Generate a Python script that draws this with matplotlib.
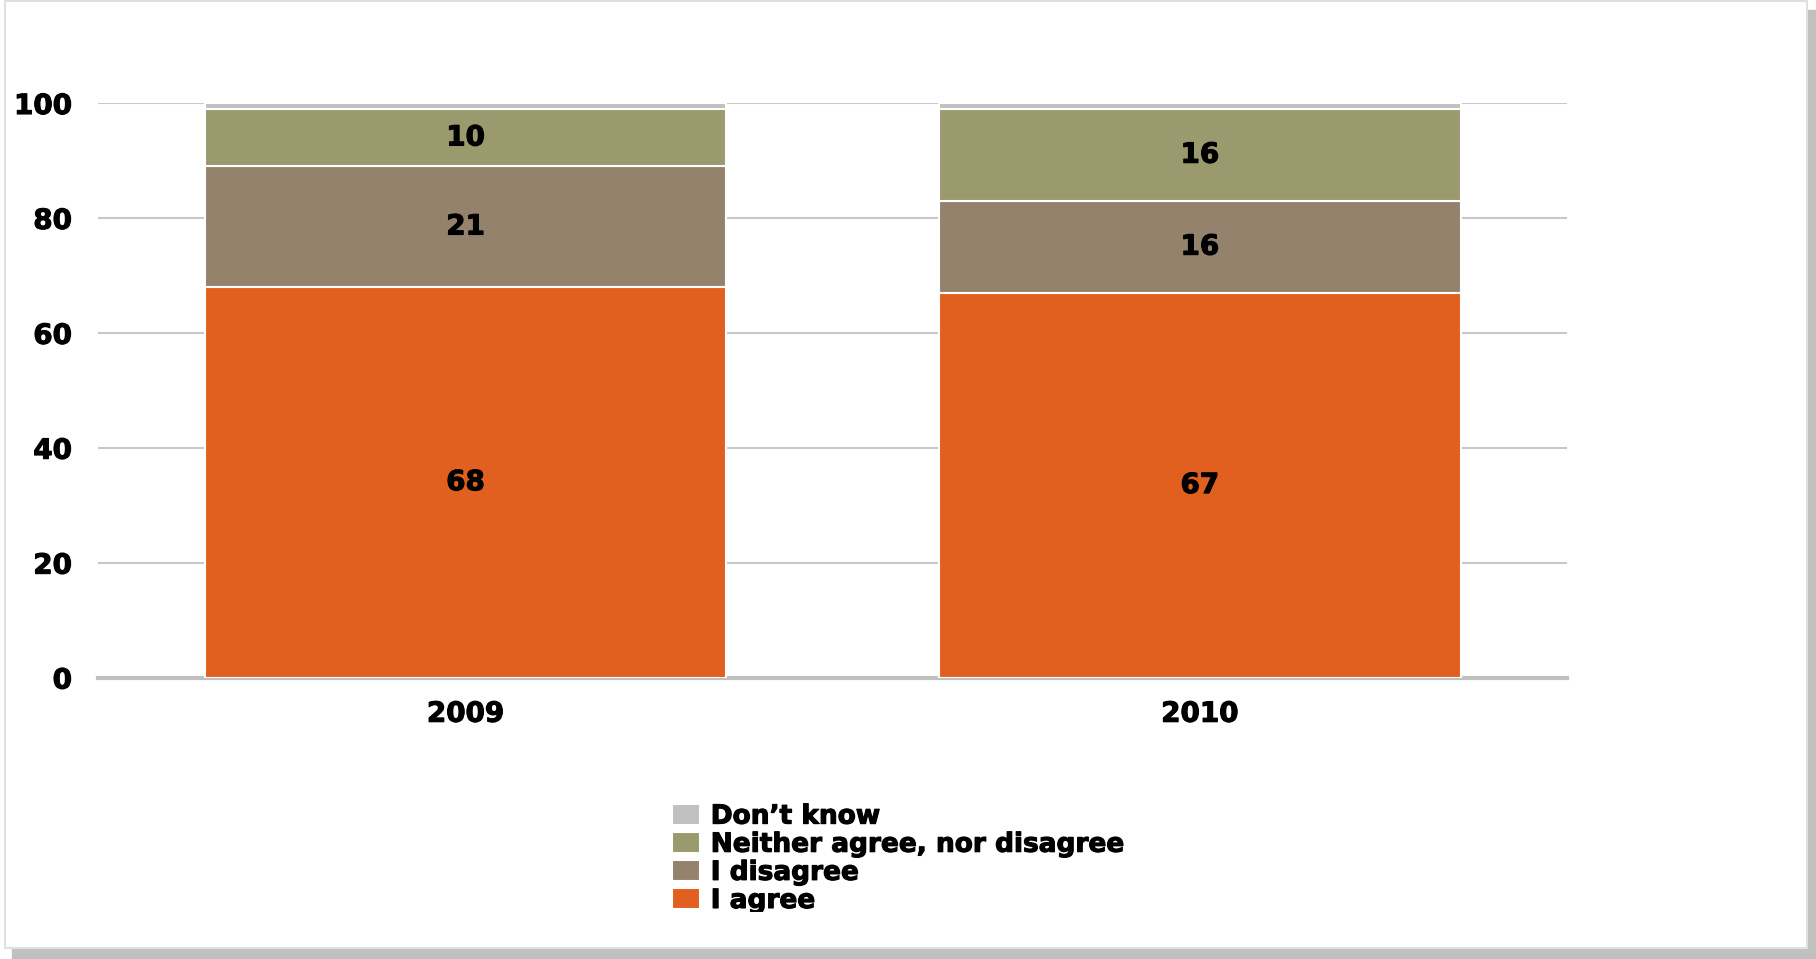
import matplotlib.pyplot as plt
import matplotlib.patheffects as pe
import numpy as np
from matplotlib.patches import Rectangle
from matplotlib.transforms import Bbox, TransformedBbox

# Data
years = ["2009", "2010"]
agree = [68, 67]
disagree = [21, 16]
neither = [10, 16]
dont_know = [1, 1]

series = [
    ("I agree", agree, "#e2601f"),
    ("I disagree", disagree, "#94826c"),
    ("Neither agree, nor disagree", neither, "#9a9a6e"),
    ("Don\u2019t know", dont_know, "#c0c0c0"),
]

plt.rcParams["font.family"] = "DejaVu Sans"
plt.rcParams["font.weight"] = "bold"

# slight stroke to get closer to the heavier Verdana bold look
heavy = [pe.withStroke(linewidth=0.8, foreground="black")]

fig = plt.figure(figsize=(18.16, 9.59), dpi=100)
ax = fig.add_axes([0.0542, 0.2935, 0.8087, 0.5991])

x = np.arange(len(years))
width = 0.71
bottom = np.zeros(len(years))
handles = []
for name, vals, color in series:
    bars = ax.bar(x, vals, width, bottom=bottom, color=color,
                  edgecolor="white", linewidth=1.5, label=name, zorder=2)
    handles.append(bars)
    if name != "Don\u2019t know":
        for xi, b, v in zip(x, bottom, vals):
            ax.text(xi, b + v / 2, f"{v}", ha="center", va="center",
                    fontsize=20, fontweight="bold", color="black", zorder=3,
                    path_effects=heavy)
    bottom += np.array(vals)

ax.set_xlim(-0.5, 1.5)
ax.set_ylim(0, 100)
ax.set_yticks(np.arange(0, 101, 20))
ax.set_xticks(x)
ax.set_xticklabels(years)
ax.tick_params(axis="y", length=0, pad=19, labelsize=20)
ax.tick_params(axis="x", length=0, pad=16, labelsize=20)
for lab in ax.get_xticklabels() + ax.get_yticklabels():
    lab.set_fontweight("bold")
    lab.set_path_effects(heavy)

ax.yaxis.grid(True, color="#c8c8c8", linewidth=1.5, zorder=0)
ax.set_axisbelow(True)
for s in ["left", "right", "top"]:
    ax.spines[s].set_visible(False)
ax.spines["bottom"].set_color("#c0c0c0")
ax.spines["bottom"].set_linewidth(3)
ax.spines["bottom"].set_zorder(1)

# Legend (reversed order, clipped at the bottom like the original)
leg = fig.legend(handles[::-1], [s[0] for s in series[::-1]],
                 loc="upper left", bbox_to_anchor=(0.370, 0.162),
                 frameon=False, fontsize=19, handlelength=1.05,
                 handleheight=0.85, handletextpad=0.42, labelspacing=0.08,
                 borderpad=0, borderaxespad=0)
clip = TransformedBbox(Bbox([[0, 0.049], [1, 1]]), fig.transFigure)
for t in leg.get_texts():
    t.set_fontweight("bold")
    t.set_path_effects(heavy)
    t.set_clip_box(clip)
    t.set_clip_on(True)

# Frame and shadow
fig.patches.append(Rectangle((12 / 1816, 0), 1 - 12 / 1816, 10 / 959,
                             transform=fig.transFigure, color="#c0c0c0", zorder=0))
fig.patches.append(Rectangle((1808 / 1816, 0), 8 / 1816, 1 - 10 / 959,
                             transform=fig.transFigure, color="#c0c0c0", zorder=0))
fig.patches.append(Rectangle((5 / 1816, 11 / 959), 1802 / 1816, 947 / 959,
                             transform=fig.transFigure, fill=False,
                             edgecolor="#e0e0e0", linewidth=1.5, zorder=0))

fig.savefig("out.png", dpi=100)
